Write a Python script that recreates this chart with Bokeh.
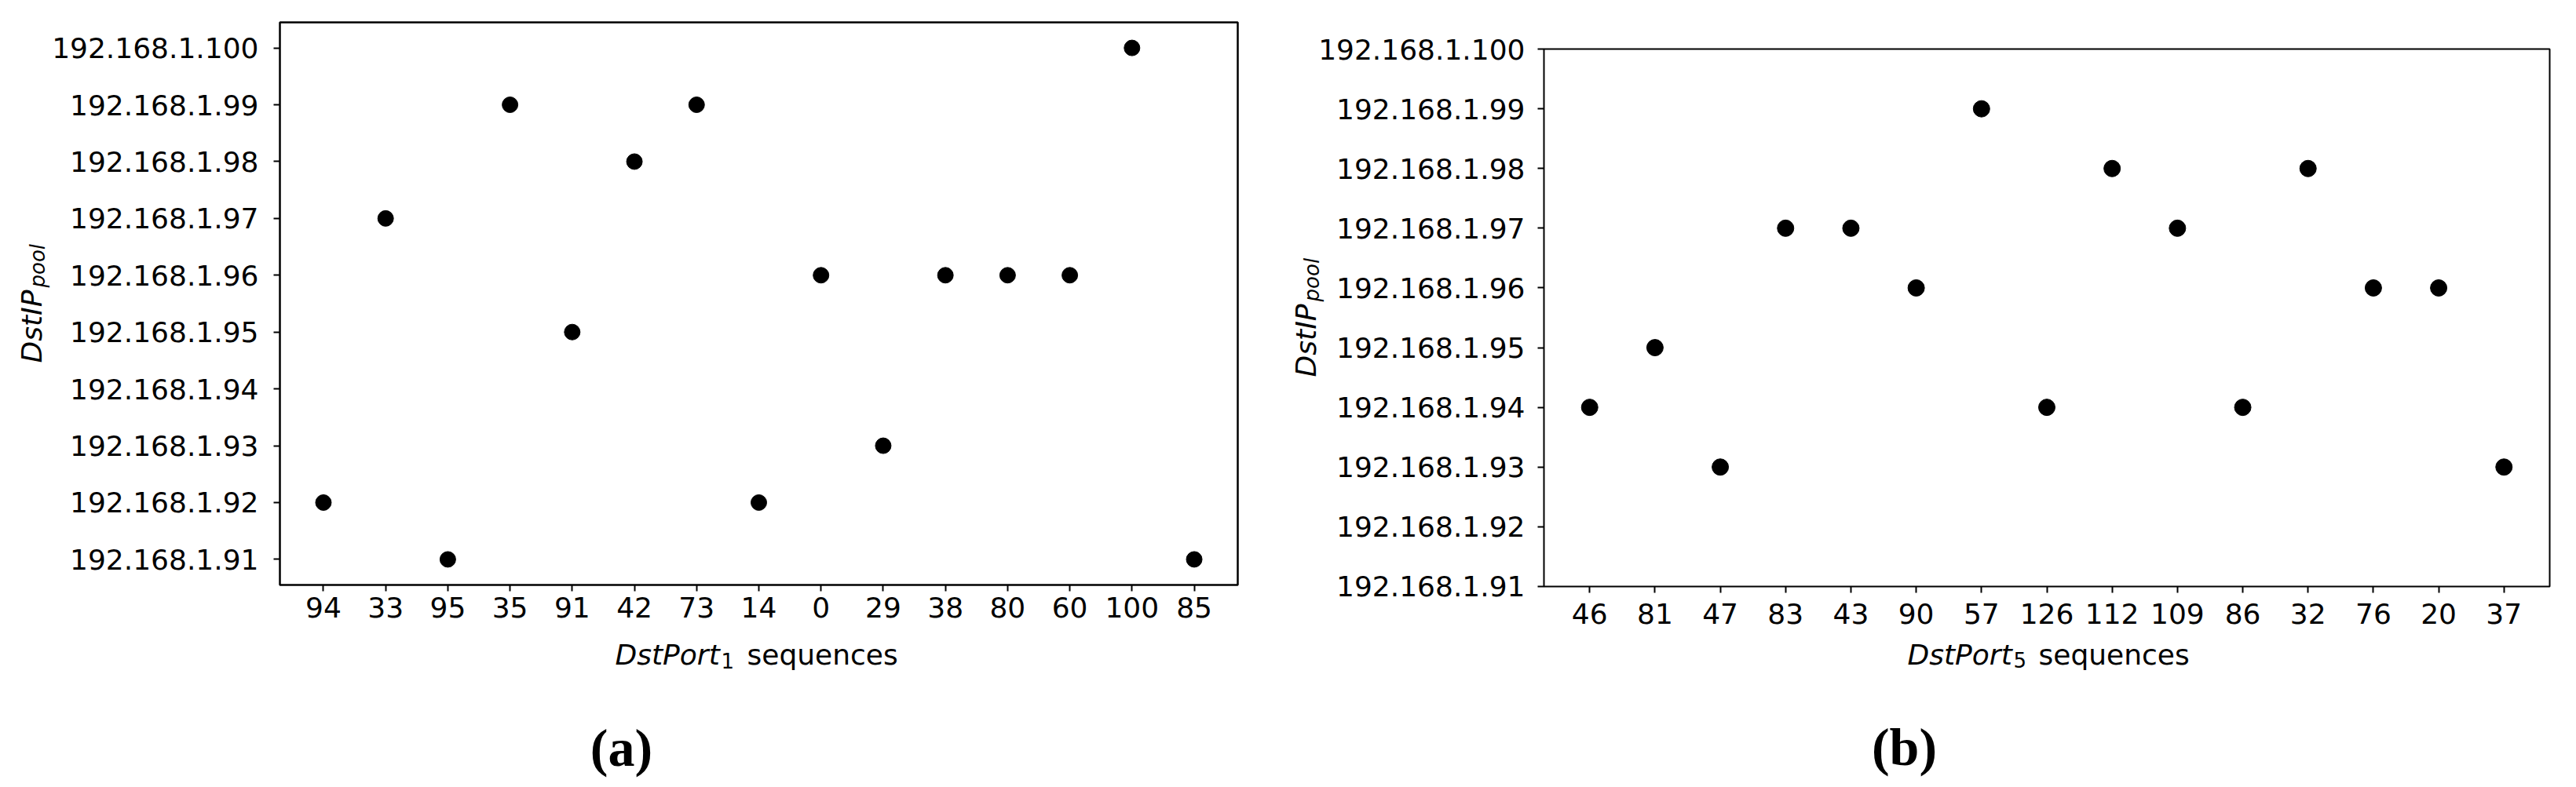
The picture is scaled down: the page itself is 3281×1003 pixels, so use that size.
from math import pi
from bokeh.plotting import figure
from bokeh.models import FactorRange, Label, ColumnDataSource
from bokeh.layouts import row
from bokeh.embed import file_html
from bokeh.resources import INLINE

# ---- data ----
ip_ticks = ["192.168.1.91", "192.168.1.92", "192.168.1.93", "192.168.1.94", "192.168.1.95",
            "192.168.1.96", "192.168.1.97", "192.168.1.98", "192.168.1.99", "192.168.1.100"]

ports_a = ["94", "33", "95", "35", "91", "42", "73", "14", "0", "29", "38", "80", "60", "100", "85"]
ips_a = ["192.168.1.92", "192.168.1.97", "192.168.1.91", "192.168.1.99", "192.168.1.95",
         "192.168.1.98", "192.168.1.99", "192.168.1.92", "192.168.1.96", "192.168.1.93",
         "192.168.1.96", "192.168.1.96", "192.168.1.96", "192.168.1.100", "192.168.1.91"]

ports_b = ["46", "81", "47", "83", "43", "90", "57", "126", "112", "109", "86", "32", "76", "20", "37"]
ips_b = ["192.168.1.94", "192.168.1.95", "192.168.1.93", "192.168.1.97", "192.168.1.97",
         "192.168.1.96", "192.168.1.99", "192.168.1.94", "192.168.1.98", "192.168.1.97",
         "192.168.1.94", "192.168.1.98", "192.168.1.96", "192.168.1.96", "192.168.1.93"]

FONT = "DejaVu Sans"


def make_panel(ports, ips, fw, fh, bl, br, bt, bb, ypad, outline_w, size, xstand, ystand):
    p = figure(
        x_range=FactorRange(factors=ports, range_padding=0.2, range_padding_units="absolute"),
        y_range=FactorRange(factors=ip_ticks, range_padding=ypad, range_padding_units="absolute"),
        width=bl + fw + br, height=bt + fh + bb,
        min_border_left=bl, min_border_right=br, min_border_top=bt, min_border_bottom=bb,
        output_backend="svg", toolbar_location=None, title_location=None,
    )
    if "frame_align" in p.properties():
        p.frame_align = False
    src = ColumnDataSource(dict(port=ports, ip=ips))
    p.scatter(x="port", y="ip", source=src, size=size, color="black")
    p.xgrid.visible = False
    p.ygrid.visible = False
    p.outline_line_color = "black"
    p.outline_line_width = outline_w
    p.outline_line_alpha = 1.0
    p.background_fill_color = "white"
    p.border_fill_color = "white"
    for ax in (p.xaxis[0], p.yaxis[0]):
        ax.axis_line_color = None
        ax.major_tick_out = 8
        ax.major_tick_in = 0
        ax.major_tick_line_width = 2
        ax.major_tick_line_color = "black"
        ax.minor_tick_line_color = None
        ax.major_label_text_font = FONT
        ax.major_label_text_color = "black"
        ax.major_label_text_font_size = "36px"
    p.xaxis[0].major_label_standoff = xstand
    p.yaxis[0].major_label_standoff = ystand
    return p


def add_labels(p, x0, y0, ylab_dx, ylab_dy, pool_side, xlab_dx, xlab_dy, sub, sub_dx, seq_dx,
               cap, cap_dx, cap_dy):
    common = dict(x=x0, y=y0, x_units="data", y_units="data", text_color="black",
                  text_baseline="alphabetic")
    # y label: DstIP_pool (rotated)
    p.add_layout(Label(text="DstIP", x_offset=ylab_dx, y_offset=ylab_dy, angle=pi / 2,
                       text_font=FONT, text_font_style="italic", text_font_size="36px",
                       text_align="left", **common), "left")
    p.add_layout(Label(text="pool", x_offset=ylab_dx + 7, y_offset=ylab_dy + 96, angle=pi / 2,
                       text_font=FONT, text_font_style="italic", text_font_size="26px",
                       text_align="left", **common), pool_side)
    # x label: DstPort_n sequences
    p.add_layout(Label(text="DstPort", x_offset=xlab_dx, y_offset=xlab_dy,
                       text_font=FONT, text_font_style="italic", text_font_size="36px",
                       text_align="left", **common), "below")
    p.add_layout(Label(text=sub, x_offset=xlab_dx + sub_dx, y_offset=xlab_dy - 7,
                       text_font=FONT, text_font_size="26px",
                       text_align="left", **common), "below")
    p.add_layout(Label(text="sequences", x_offset=xlab_dx + seq_dx, y_offset=xlab_dy,
                       text_font=FONT, text_font_size="36px",
                       text_align="left", **common), "below")
    # caption
    cap_common = dict(common)
    cap_common["text_baseline"] = "middle"
    p.add_layout(Label(text=cap, x_offset=cap_dx, y_offset=cap_dy,
                       text_font="Liberation Serif", text_font_style="bold", text_font_size="68px",
                       text_align="center", **cap_common), "below")


p1 = make_panel(ports_a, ips_a, fw=1220, fh=717, bl=356, br=32, bt=28, bb=257,
                ypad=-0.05, outline_w=2.5, size=20, xstand=7, ystand=19)
add_labels(p1, x0=-0.2, y0=0.05, ylab_dx=-316, ylab_dy=283, pool_side="right",
           xlab_dx=427, xlab_dy=-89, sub="1", sub_dx=135, seq_dx=168,
           cap="(a)", cap_dx=435, cap_dy=-207)

p2 = make_panel(ports_b, ips_b, fw=1281, fh=685, bl=358, br=33, bt=62, bb=255,
                ypad=-0.499, outline_w=2, size=21, xstand=13, ystand=16)
add_labels(p2, x0=-0.2, y0=0.5, ylab_dx=-303, ylab_dy=267, pool_side="above",
           xlab_dx=463, xlab_dy=-87, sub="5", sub_dx=135, seq_dx=167,
           cap="(b)", cap_dx=459, cap_dy=-205)

layout = row(p1, p2)
open("out.html", "w").write(file_html(layout, INLINE))
